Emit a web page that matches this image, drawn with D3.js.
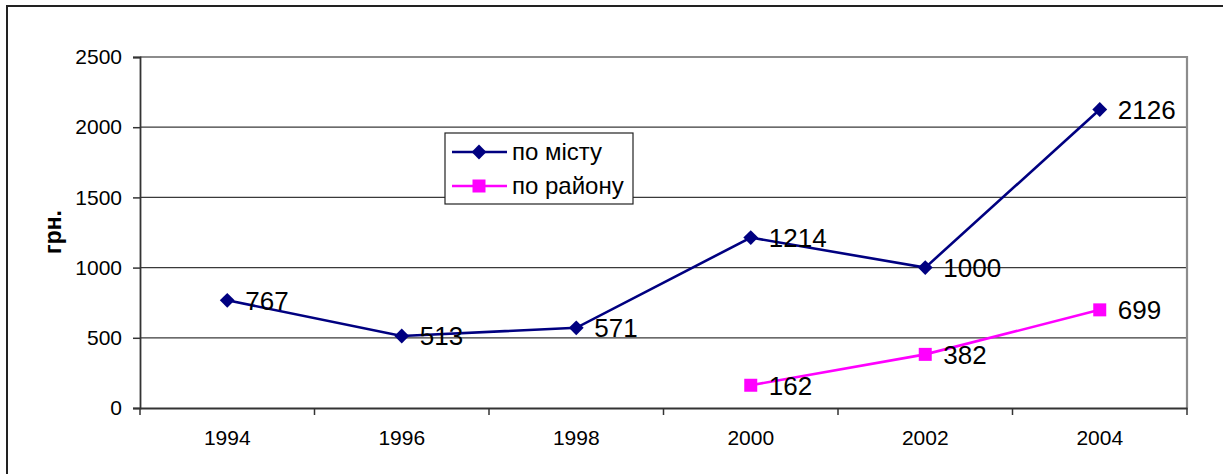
<!DOCTYPE html>
<html><head><meta charset="utf-8">
<script src="https://cdn.jsdelivr.net/npm/d3@7"></script>
<style>body{margin:0;background:#fff}svg{display:block;font-family:Arial,"Liberation Sans",sans-serif}</style>
</head><body><svg id="c" width="1223" height="474"></svg>
<script>
const years = ["1994","1996","1998","2000","2002","2004"];
const cityValues = [767, 513, 571, 1214, 1000, 2126];
const districtValues = [null, null, null, 162, 382, 699];
const yTicks = [0, 500, 1000, 1500, 2000, 2500];
const seriesNames = ["по місту", "по району"];
const yTitle = "грн.";

const svg = d3.select("#c");
const L = 140, T = 57, R = 1187, B = 408;
const x = d3.scaleBand().domain(years).range([L, R]);
const y = d3.scaleLinear().domain([0, 2500]).range([B, T]);

// outer frame
svg.append("rect").attr("x", 7).attr("y", 6).attr("width", 1230).attr("height", 480)
  .attr("fill", "none").attr("stroke", "#222").attr("stroke-width", 2);

// gridlines
svg.append("g").selectAll("line").data(yTicks.filter(d => d > 0 && d < 2500)).join("line")
  .attr("x1", L).attr("x2", R).attr("y1", d => y(d)).attr("y2", d => y(d))
  .attr("stroke", "#3a3a3a").attr("stroke-width", 1.2);
// top & right plot border (gray)
svg.append("path").attr("d", `M${L},${y(2500)}H${R}V${B}`).attr("fill", "none")
  .attr("stroke", "#8c8c8c").attr("stroke-width", 2.2);

// y axis
const ya = svg.append("g").attr("transform", `translate(${L},0)`)
  .call(d3.axisLeft(y).tickValues(yTicks).tickSize(7).tickPadding(11).tickFormat(d3.format("d")));
ya.select(".domain").attr("stroke", "#333").attr("stroke-width", 1.8);
ya.selectAll(".tick line").attr("stroke", "#333").attr("stroke-width", 1.5);
ya.selectAll("text").attr("font-size", 21).attr("fill", "#000").attr("font-family", "Arial, 'Liberation Sans'");

// x axis
const xa = svg.append("g").attr("transform", `translate(0,${B})`)
  .call(d3.axisBottom(x).tickSize(0).tickPadding(22));
xa.select(".domain").attr("stroke", "#333").attr("stroke-width", 1.8);
xa.selectAll("text").attr("font-size", 21).attr("fill", "#000").attr("font-family", "Arial, 'Liberation Sans'");
xa.selectAll(".bound").data(d3.range(years.length + 1)).join("line").attr("class", "bound")
  .attr("x1", i => L + i * x.step()).attr("x2", i => L + i * x.step())
  .attr("y1", 0).attr("y2", 7).attr("stroke", "#333").attr("stroke-width", 1.5);

// y title
svg.append("text").attr("transform", "translate(61,232) rotate(-90)")
  .attr("text-anchor", "middle").attr("font-size", 23).attr("font-weight", "bold").text(yTitle);

const cx = d => x(d) + x.bandwidth() / 2;
const series = [
  {vals: cityValues, color: "#000080", marker: "diamond"},
  {vals: districtValues, color: "#ff00ff", marker: "square"}
];
function marker(g, s, px, py) {
  if (s.marker === "diamond") {
    g.append("path").attr("d", d3.symbol(d3.symbolSquare, 110)())
      .attr("transform", `translate(${px},${py}) rotate(45)`).attr("fill", s.color);
  } else {
    g.append("path").attr("d", d3.symbol(d3.symbolSquare, 169)())
      .attr("transform", `translate(${px},${py})`).attr("fill", s.color);
  }
}
series.forEach(s => {
  const pts = years.map((yr, i) => ({yr, v: s.vals[i]})).filter(p => p.v != null);
  svg.append("path").datum(pts)
    .attr("d", d3.line().x(p => cx(p.yr)).y(p => y(p.v)))
    .attr("fill", "none").attr("stroke", s.color).attr("stroke-width", 2.6);
  const g = svg.append("g");
  pts.forEach(p => {
    marker(g, s, cx(p.yr), y(p.v));
    svg.append("text").attr("x", cx(p.yr) + 18).attr("y", y(p.v) + 9.5)
      .attr("font-size", 26).attr("fill", "#000").text(p.v);
  });
});

// legend
const lg = svg.append("g");
lg.append("rect").attr("x", 445).attr("y", 133).attr("width", 188).attr("height", 71)
  .attr("fill", "#fff").attr("stroke", "#222").attr("stroke-width", 1.2);
series.forEach((s, i) => {
  const ly = 152 + i * 34;
  lg.append("line").attr("x1", 452).attr("x2", 507).attr("y1", ly).attr("y2", ly)
    .attr("stroke", s.color).attr("stroke-width", 2.6);
  marker(lg, s, 479, ly);
  lg.append("text").attr("x", 512).attr("y", ly + 8).attr("font-size", 24).text(seriesNames[i]);
});
</script></body></html>
